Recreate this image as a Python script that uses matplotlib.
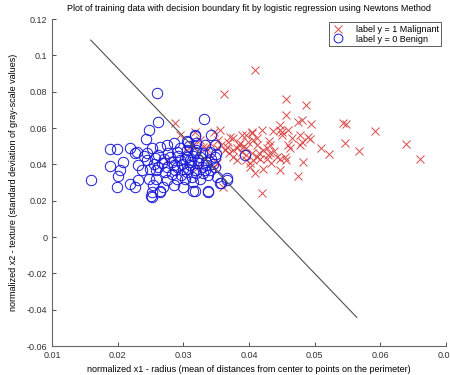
import matplotlib
matplotlib.use("Agg")
import matplotlib.pyplot as plt

plt.rcParams['font.family'] = ['Liberation Sans', 'DejaVu Sans']

# malignant (y = 1)
mal_x = [0.0409, 0.0362, 0.0457, 0.0486, 0.0457, 0.0480, 0.0475, 0.0494, 0.0543, 0.0547,
         0.0592, 0.0639, 0.0660, 0.0546, 0.0568, 0.0510, 0.0522, 0.0482, 0.0475, 0.0420,
         0.0493, 0.0490, 0.0477, 0.0480, 0.0447, 0.0450, 0.0447, 0.0437, 0.0465, 0.0460,
         0.0462, 0.0455, 0.0457, 0.0447, 0.0434, 0.0427, 0.0429, 0.0422, 0.0409, 0.0401,
         0.0419, 0.0404, 0.0406, 0.0399, 0.0391, 0.0389, 0.0376, 0.0371, 0.0368, 0.0356,
         0.0346, 0.0381, 0.0376, 0.0381, 0.0363, 0.0358, 0.0351, 0.0422, 0.0427, 0.0432,
         0.0417, 0.0412, 0.0442, 0.0447, 0.0477, 0.0460, 0.0450, 0.0396, 0.0401, 0.0361,
         0.0412, 0.0432, 0.0389, 0.0353, 0.0340, 0.0335, 0.0340, 0.0287, 0.0318, 0.0295,
         0.0305, 0.0315, 0.0325, 0.0330, 0.0275, 0.0323, 0.0346, 0.0351, 0.0366, 0.0376,
         0.0386, 0.0396, 0.0404, 0.0406, 0.0404, 0.0396, 0.0412, 0.0415, 0.0438, 0.0395,
         0.0370, 0.0385, 0.0430]
mal_y = [0.0919, 0.0785, 0.0758, 0.0726, 0.0671, 0.0644, 0.0631, 0.0620, 0.0629, 0.0620,
         0.0583, 0.0510, 0.0429, 0.0515, 0.0474, 0.0491, 0.0456, 0.0414, 0.0335, 0.0240,
         0.0539, 0.0548, 0.0506, 0.0524, 0.0616, 0.0579, 0.0588, 0.0583, 0.0543, 0.0506,
         0.0488, 0.0441, 0.0423, 0.0368, 0.0405, 0.0432, 0.0451, 0.0377, 0.0350, 0.0386,
         0.0588, 0.0570, 0.0533, 0.0524, 0.0496, 0.0469, 0.0543, 0.0552, 0.0524, 0.0588,
         0.0579, 0.0488, 0.0441, 0.0423, 0.0478, 0.0506, 0.0488, 0.0478, 0.0488, 0.0460,
         0.0432, 0.0441, 0.0441, 0.0432, 0.0561, 0.0588, 0.0561, 0.0423, 0.0405, 0.0276,
         0.0506, 0.0506, 0.0561, 0.0533, 0.0515, 0.0488, 0.0451, 0.0629, 0.0579, 0.0561,
         0.0478, 0.0506, 0.0533, 0.0496, 0.0423, 0.0386, 0.0386, 0.0405, 0.0496, 0.0478,
         0.0515, 0.0488, 0.0460, 0.0423, 0.0579, 0.0561, 0.0543, 0.0465, 0.0475, 0.0450,
         0.0460, 0.0505, 0.0530]

# benign (y = 0)
ben_x = [0.0260, 0.0331, 0.0262, 0.0247, 0.0243, 0.0189, 0.0199, 0.0219, 0.0227, 0.0189,
         0.0208, 0.0203, 0.0200, 0.0160, 0.0199, 0.0219, 0.0226, 0.0251, 0.0264, 0.0315,
         0.0338, 0.0367, 0.0357, 0.0350, 0.0342, 0.0318, 0.0305, 0.0394,
         0.0229, 0.0244, 0.0244, 0.0231, 0.0252, 0.0264, 0.0275, 0.0285, 0.0262, 0.0277,
         0.0290, 0.0267, 0.0282, 0.0295, 0.0302, 0.0237, 0.0249, 0.0259, 0.0272, 0.0287,
         0.0300, 0.0231, 0.0247, 0.0259, 0.0275, 0.0290, 0.0302, 0.0254, 0.0269, 0.0285,
         0.0300, 0.0252, 0.0264, 0.0252,
         0.0318, 0.0307, 0.0320, 0.0333, 0.0348, 0.0305, 0.0318, 0.0328, 0.0340, 0.0310,
         0.0323, 0.0335, 0.0348, 0.0307, 0.0318, 0.0333, 0.0348, 0.0313, 0.0325, 0.0338,
         0.0351, 0.0315, 0.0318, 0.0338, 0.0356, 0.0366,
         0.0280, 0.0292, 0.0305, 0.0315, 0.0325, 0.0285, 0.0298, 0.0310, 0.0322, 0.0335,
         0.0275, 0.0290, 0.0305, 0.0320, 0.0330, 0.0270, 0.0282, 0.0296, 0.0312, 0.0328,
         0.0256, 0.0262, 0.0240, 0.0257, 0.0295, 0.0308, 0.0320, 0.0342, 0.0345, 0.0340]
ben_y = [0.0791, 0.0651, 0.0632, 0.0588, 0.0537, 0.0482, 0.0485, 0.0489, 0.0460, 0.0390,
         0.0412, 0.0368, 0.0335, 0.0313, 0.0273, 0.0291, 0.0276, 0.0225, 0.0251, 0.0251,
         0.0247, 0.0324, 0.0298, 0.0456, 0.0559, 0.0555, 0.0526, 0.0452,
         0.0469, 0.0460, 0.0423, 0.0396, 0.0488, 0.0496, 0.0506, 0.0515, 0.0451, 0.0460,
         0.0469, 0.0405, 0.0414, 0.0423, 0.0432, 0.0368, 0.0377, 0.0368, 0.0359, 0.0368,
         0.0377, 0.0313, 0.0322, 0.0317, 0.0313, 0.0317, 0.0322, 0.0285, 0.0276, 0.0285,
         0.0276, 0.0248, 0.0248, 0.0218,
         0.0561, 0.0524, 0.0515, 0.0506, 0.0506, 0.0478, 0.0469, 0.0460, 0.0469, 0.0423,
         0.0423, 0.0414, 0.0441, 0.0377, 0.0368, 0.0368, 0.0386, 0.0331, 0.0322, 0.0340,
         0.0331, 0.0304, 0.0254, 0.0254, 0.0295, 0.0313,
         0.0440, 0.0445, 0.0440, 0.0448, 0.0440, 0.0395, 0.0400, 0.0395, 0.0405, 0.0395,
         0.0385, 0.0388, 0.0360, 0.0350, 0.0355, 0.0430, 0.0348, 0.0340, 0.0412, 0.0385,
         0.0402, 0.0385, 0.0445, 0.0433, 0.0490, 0.0500, 0.0480, 0.0430, 0.0400, 0.0370]

# decision boundary end points
bound_x = [0.0159, 0.0564]
bound_y = [0.1084, -0.0442]

xticks = [0.01, 0.02, 0.03, 0.04, 0.05, 0.06, 0.07]
yticks = [-0.06, -0.04, -0.02, 0, 0.02, 0.04, 0.06, 0.08, 0.1, 0.12]

fig = plt.figure(figsize=(4.5, 3.75), dpi=100)
ax = fig.add_axes([0.1156, 0.0773, 0.8756, 0.872])

ax.plot(mal_x, mal_y, 'x', color='#d94a4a', markersize=6, markeredgewidth=0.7,
        label='label y = 1 Malignant')
ax.plot(ben_x, ben_y, 'o', markerfacecolor='none', markeredgecolor='#1a1ad9',
        markersize=7.5, markeredgewidth=0.7, label='label y = 0 Benign')
ax.plot(bound_x, bound_y, '-', color='#505050', linewidth=0.8)

ax.set_xlim(0.01, 0.07)
ax.set_ylim(-0.06, 0.12)
ax.set_xticks(xticks)
ax.set_yticks(yticks)
ax.set_xticklabels(['0.01', '0.02', '0.03', '0.04', '0.05', '0.06', '0.07'])
ax.set_yticklabels(['-0.06', '-0.04', '-0.02', '0', '0.02', '0.04', '0.06', '0.08', '0.1', '0.12'])
ax.tick_params(direction='in', length=3, width=0.6, labelsize=6.5, colors='#333333')

for s in ['top', 'right']:
    ax.spines[s].set_visible(False)
for s in ['left', 'bottom']:
    ax.spines[s].set_color('#666666')
    ax.spines[s].set_linewidth(0.8)

ax.set_title('Plot of training data with decision boundary fit by logistic regression using Newtons Method',
             fontsize=6.5, pad=6)
ax.set_xlabel('normalized x1 - radius (mean of distances from center to points on the perimeter)',
              fontsize=6.5, labelpad=4)
ax.set_ylabel('normalized x2 - texture (standard deviation of gray-scale values)',
              fontsize=6.5, labelpad=6)

leg = ax.legend(loc='upper right', bbox_to_anchor=(0.993, 0.995), fontsize=6.5,
                fancybox=False, framealpha=1, edgecolor='#444444', markerscale=0.85,
                handletextpad=1.2, borderpad=0.25, labelspacing=0.1, handlelength=1.6,
                borderaxespad=0.2)
leg.get_frame().set_linewidth(0.6)

fig.savefig('out.png', dpi=100)
